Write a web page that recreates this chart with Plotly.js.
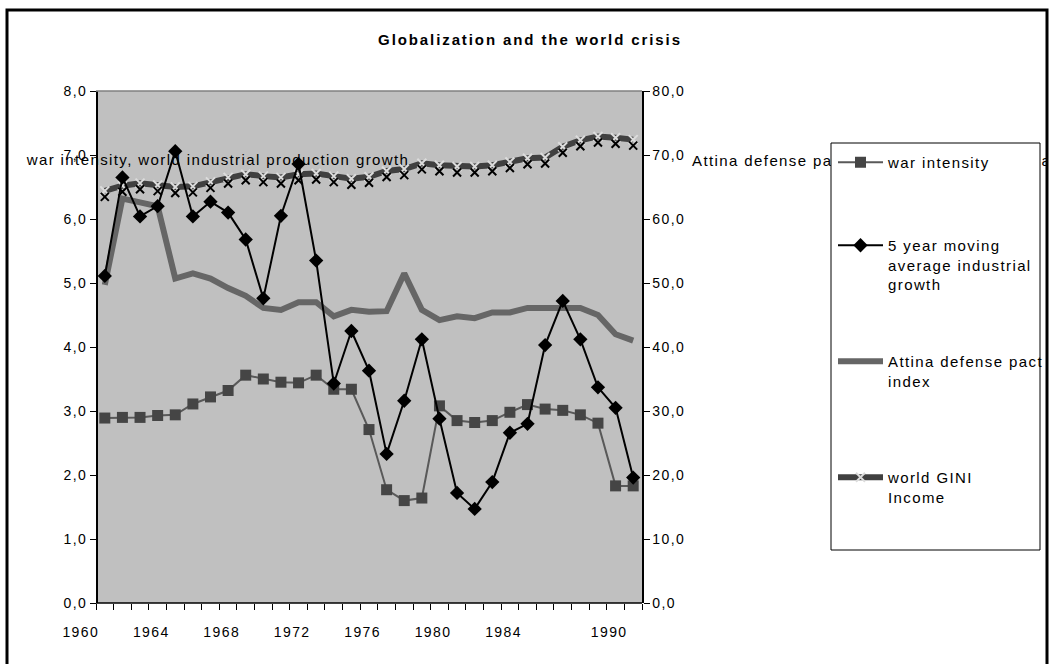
<!DOCTYPE html>
<html>
<head>
<meta charset="utf-8">
<script src="https://cdn.plot.ly/plotly-3.0.1.min.js"></script>
<style>
  html, body { margin: 0; padding: 0; background: #fff; }
  svg text { letter-spacing: 1.4px; }
  svg text.gtitle { letter-spacing: 1.9px; }
</style>
</head>
<body>
<div id="chart" style="width:1053px;height:664px;"></div>
<script>
// ---- data ----
const years = [1960,1961,1962,1963,1964,1965,1966,1967,1968,1969,1970,1971,1972,1973,1974,1975,1976,1977,1978,1979,1980,1981,1982,1983,1984,1985,1986,1987,1988,1989,1990];
const warIntensity = [2.89,2.90,2.90,2.93,2.94,3.11,3.22,3.32,3.56,3.50,3.45,3.44,3.56,3.34,3.34,2.71,1.77,1.60,1.64,3.08,2.85,2.82,2.85,2.98,3.10,3.03,3.01,2.94,2.81,1.83,1.83];
const industrialGrowth = [5.11,6.65,6.04,6.20,7.06,6.04,6.27,6.10,5.68,4.76,6.05,6.86,5.35,3.43,4.25,3.63,2.33,3.16,4.12,2.88,1.72,1.47,1.89,2.66,2.80,4.03,4.72,4.12,3.37,3.05,1.96];
const attinaIndex = [49.7,63.2,62.6,62.0,50.7,51.5,50.7,49.2,48.0,46.1,45.8,47.0,47.0,44.8,45.8,45.5,45.6,51.5,45.8,44.2,44.8,44.5,45.4,45.4,46.1,46.1,46.1,46.1,45.0,42.0,41.0];
const giniIncome = [64.4,65.2,65.6,65.3,65.0,65.1,65.8,66.5,67.0,66.7,66.5,67.0,67.1,66.7,66.3,66.6,67.5,67.8,68.7,68.4,68.2,68.2,68.4,68.9,69.5,69.6,71.3,72.3,72.9,72.7,72.4];
const xTickYears = [1960,1964,1968,1972,1976,1980,1984,1990];
const xTickLabels = ['1960','1964','1968','1972','1976','1980','1984','1990'];
const leftTickVals = [0,1,2,3,4,5,6,7,8];
const leftTickLabels = ['0,0','1,0','2,0','3,0','4,0','5,0','6,0','7,0','8,0'];
const rightTickVals = [0,10,20,30,40,50,60,70,80];
const rightTickLabels = ['0,0','10,0','20,0','30,0','40,0','50,0','60,0','70,0','80,0'];
const seriesNames = ['war intensity','5 year moving<br>average industrial<br>growth','Attina defense pact<br>index','world GINI<br>Income'];
const chartTitle = 'Globalization and the world crisis';
const leftTitle = 'war intensity, world industrial production growth';
const rightTitle = 'Attina defense pact index, world GINI, annual';

// ---- geometry (pixels) ----
const W = 1053, H = 664;
const PL = 96, PRIGHT = 642, PT = 91, PB = 603;
const XMIN = years[0] - 0.5, XMAX = years[years.length - 1] + 0.5;       // category band edges
const pxPerYear = (PRIGHT - PL) / (XMAX - XMIN);
const xFull = XMIN + (W - PL) / pxPerYear;                                 // x axis spans to page edge
const xAt = p => XMIN + (p - PL) / pxPerYear;                              // pixel -> x value (for text anchors)
const px = v => (v - PL) / (W - PL);
const py = v => (PB - v) / (PB - PT);
const yRightAt = p => (PB - p) / (PB - PT) * 80;
const FONT = 'Liberation Sans, Arial, sans-serif';
const bandEdges = years.map(y => y - 0.5).concat([XMAX]);

const traces = [
  // axis titles, drawn as text behind the data lines
  {x: [xAt(218)], y: [yRightAt(161)], xaxis: 'x', yaxis: 'y', mode: 'text', text: [leftTitle],
   textposition: 'middle center', cliponaxis: false, showlegend: false, hoverinfo: 'skip',
   textfont: {family: FONT, size: 15, color: '#000'}},
  {x: [xAt(692)], y: [yRightAt(162)], xaxis: 'x', yaxis: 'y', mode: 'text', text: [rightTitle],
   textposition: 'middle right', cliponaxis: false, showlegend: false, hoverinfo: 'skip',
   textfont: {family: FONT, size: 15, color: '#000'}},
  {x: years, y: attinaIndex, xaxis: 'x', yaxis: 'y', mode: 'lines', name: seriesNames[2],
   legend: 'legend3', line: {color: '#666666', width: 6}},
  {x: years, y: giniIncome, xaxis: 'x', yaxis: 'y3', mode: 'markers', showlegend: false, hoverinfo: 'skip',
   marker: {symbol: 'x-thin-open', size: 8, color: '#000', line: {color: '#000', width: 2}}},
  {x: years, y: giniIncome, xaxis: 'x', yaxis: 'y', mode: 'lines+markers', name: seriesNames[3],
   legend: 'legend4', line: {color: '#404040', width: 6},
   marker: {symbol: 'x-thin-open', size: 9, color: '#dcdcdc', line: {color: '#dcdcdc', width: 2}}},
  {x: years, y: warIntensity, xaxis: 'x', yaxis: 'y2', mode: 'lines+markers', name: seriesNames[0],
   legend: 'legend', line: {color: '#595959', width: 2},
   marker: {symbol: 'square', size: 11, color: '#454545'}},
  {x: years, y: industrialGrowth, xaxis: 'x', yaxis: 'y2', mode: 'lines+markers', name: seriesNames[1],
   legend: 'legend2', line: {color: '#000', width: 2},
   marker: {symbol: 'diamond', size: 11, color: '#000'}}
];

const legendBase = {xanchor: 'left', yanchor: 'top', bgcolor: 'rgba(0,0,0,0)', borderwidth: 0,
  font: {family: FONT, size: 15, color: '#000'}, valign: 'top', itemwidth: 45};

const tickFont = {family: FONT, size: 14, color: '#000'};

const layout = {
  width: W, height: H,
  margin: {l: PL, r: 0, t: PT, b: H - PB, pad: 0},
  paper_bgcolor: '#ffffff', plot_bgcolor: 'rgba(0,0,0,0)',
  font: {family: FONT, size: 14, color: '#000'},
  title: {text: '<b>' + chartTitle + '</b>', x: 530 / W, xanchor: 'center', y: 1 - 40 / H, yanchor: 'middle',
          font: {family: FONT, size: 15, color: '#000'}},
  xaxis: {range: [XMIN, xFull], domain: [0, 1], tickmode: 'array', tickvals: xTickYears, ticktext: xTickLabels,
          ticks: '', showgrid: false, zeroline: false, showline: false,
          ticklabelshift: -24, ticklabelstandoff: 19, tickfont: tickFont,
          minor: {tickmode: 'array', tickvals: bandEdges, ticks: 'outside', ticklen: 6, tickcolor: '#000', tickwidth: 1, showgrid: false}},
  yaxis: {range: [0, 80], side: 'right', anchor: 'free', position: px(PRIGHT),
          tickmode: 'array', tickvals: rightTickVals, ticktext: rightTickLabels,
          ticks: 'outside', ticklen: 6, tickcolor: '#000', showgrid: false, zeroline: false,
          showline: true, linecolor: '#000', linewidth: 1.5, tickfont: tickFont},
  yaxis2: {range: [0, 8], side: 'left', overlaying: 'y', anchor: 'free', position: 0,
          tickmode: 'array', tickvals: leftTickVals, ticktext: leftTickLabels,
          ticks: 'outside', ticklen: 6, tickcolor: '#000', showgrid: false, zeroline: false,
          showline: true, linecolor: '#000', linewidth: 1.5, tickfont: tickFont},
  yaxis3: {range: [0.94, 80.94], overlaying: 'y', visible: false},
  legend:  Object.assign({}, legendBase, {x: px(833), y: py(146)}),
  legend2: Object.assign({}, legendBase, {x: px(833), y: py(229)}),
  legend3: Object.assign({}, legendBase, {x: px(833), y: py(345)}),
  legend4: Object.assign({}, legendBase, {x: px(833), y: py(461)}),
  shapes: [
    // gray plot area
    {type: 'rect', xref: 'x', yref: 'paper', x0: XMIN, x1: XMAX, y0: 0, y1: 1,
     fillcolor: '#c0c0c0', line: {width: 0}, layer: 'below'},
    // top border of plot area (gray)
    {type: 'line', xref: 'x', yref: 'paper', x0: XMIN, x1: XMAX, y0: 1, y1: 1, line: {color: '#808080', width: 1.5}, layer: 'above'},
    // x axis line
    {type: 'line', xref: 'x', yref: 'paper', x0: XMIN, x1: XMAX, y0: 0, y1: 0, line: {color: '#000', width: 1.5}, layer: 'above'},
    // legend box
    {type: 'rect', xref: 'paper', yref: 'paper', x0: px(831), x1: px(1040), y0: py(143), y1: py(550),
     fillcolor: '#ffffff', line: {color: '#000', width: 1}, layer: 'above'},
    // white outside the chart frame on the right
    {type: 'rect', xref: 'paper', yref: 'paper', x0: px(1048), x1: px(1070), y0: py(-10), y1: py(700),
     fillcolor: '#ffffff', line: {width: 0}, layer: 'above'},
    // outer chart frame
    {type: 'rect', xref: 'paper', yref: 'paper', x0: px(7), x1: px(1047), y0: py(10), y1: py(720),
     fillcolor: 'rgba(0,0,0,0)', line: {color: '#000', width: 3}, layer: 'above'}
  ],
  showlegend: true
};

Plotly.newPlot('chart', traces, layout, {displayModeBar: false, staticPlot: true});
</script>
</body>
</html>
